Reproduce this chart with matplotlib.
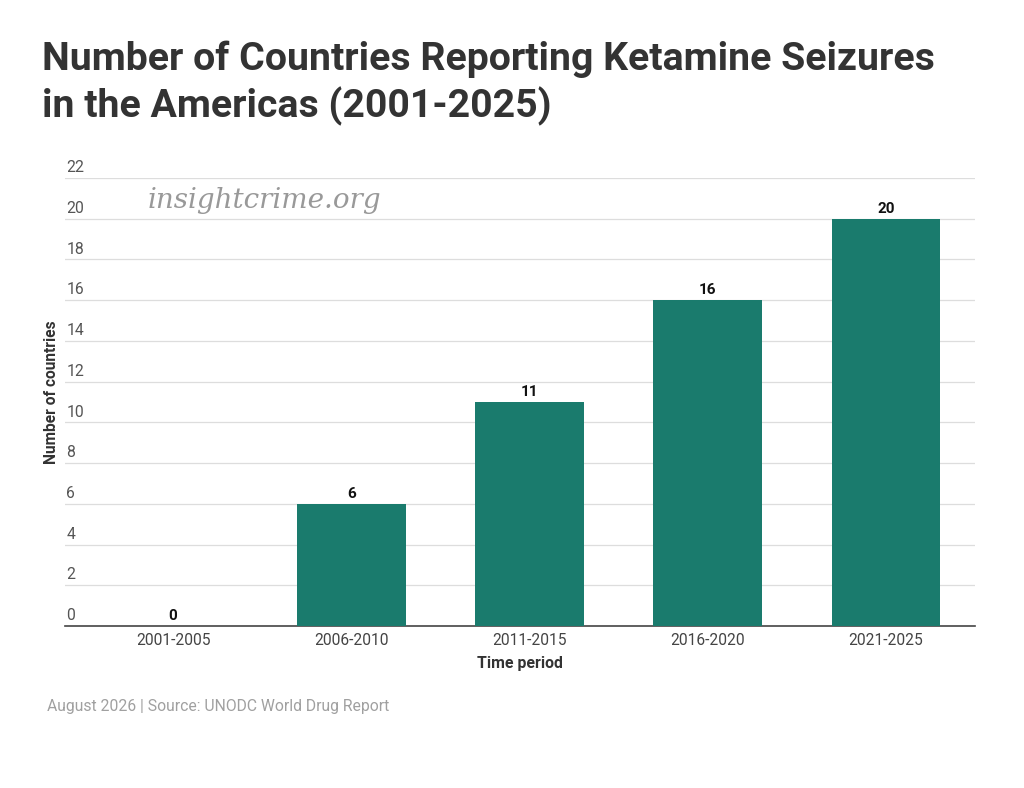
import matplotlib.pyplot as plt
import matplotlib.transforms as mtransforms

periods = ["2001-2005", "2006-2010", "2011-2015", "2016-2020", "2021-2025"]
countries = [0, 6, 11, 16, 20]
yticks = list(range(0, 23, 2))

plt.rcParams['font.family'] = ['Roboto', 'DejaVu Sans']

W, H = 1024, 788
fig = plt.figure(figsize=(W / 100, H / 100), dpi=100)
fig.patch.set_facecolor("white")

# axes placed in pixel coords
left, right, top, bottom = 65, 975, 178, 626
ax = fig.add_axes([left / W, 1 - bottom / H, (right - left) / W, (bottom - top) / H])

x = list(range(len(periods)))
ax.bar(x, countries, width=0.61, color="#1a7b6d", zorder=3)
for xi, v in zip(x, countries):
    ax.annotate(str(v), (xi, v), xytext=(0, 2), textcoords="offset points",
                ha="center", va="bottom", fontsize=11, fontweight="bold",
                color="#111111", zorder=4)

ax.set_xlim(-0.606, 4.5)
ax.set_ylim(0, 22)

# gridlines with labels sitting above them on the left
for t in yticks:
    if t > 0:
        ax.axhline(t, color="#dddddd", lw=0.9, zorder=1)
trans = mtransforms.blended_transform_factory(ax.transAxes, ax.transData)
for t in yticks:
    ax.annotate(str(t), (0, t), xycoords=trans, xytext=(1, 2),
                textcoords="offset points", ha="left", va="bottom",
                fontsize=11.3, color="#555555")

ax.set_yticks([])
ax.set_xticks(x)
ax.set_xticklabels(periods, fontsize=11.2, color="#444444")
ax.tick_params(axis="x", length=0, pad=5)
for s in ["top", "right", "left"]:
    ax.spines[s].set_visible(False)
ax.spines["bottom"].set_color("#444444")
ax.spines["bottom"].set_linewidth(1.2)
ax.set_facecolor("none")

ax.set_xlabel("Time period", fontsize=11.4, fontweight="bold", color="#333333", labelpad=6)

fig.text(52 / W, 1 - 392 / H, "Number of countries", rotation=90, ha="center", va="center",
         fontsize=11.2, fontweight="bold", color="#333333")

fig.text(42 / W, 1 - 59 / H, "Number of Countries Reporting Ketamine Seizures",
         ha="left", va="center", fontsize=28.3, fontweight="bold", color="#333333")
fig.text(42 / W, 1 - 106 / H, "in the Americas (2001-2025)",
         ha="left", va="center", fontsize=28.3, fontweight="bold", color="#333333")

wm = fig.text(148 / W, 1 - 200 / H, "insightcrime.org", ha="left", va="center",
              fontsize=20, fontstyle="italic", family="DejaVu Serif", color="#999999")

fig.text(47 / W, 1 - 707 / H, "August 2026 | Source: UNODC World Drug Report",
         ha="left", va="center", fontsize=11.3, color="#a0a0a0")

fig.savefig("out.png", dpi=100, facecolor="white")
